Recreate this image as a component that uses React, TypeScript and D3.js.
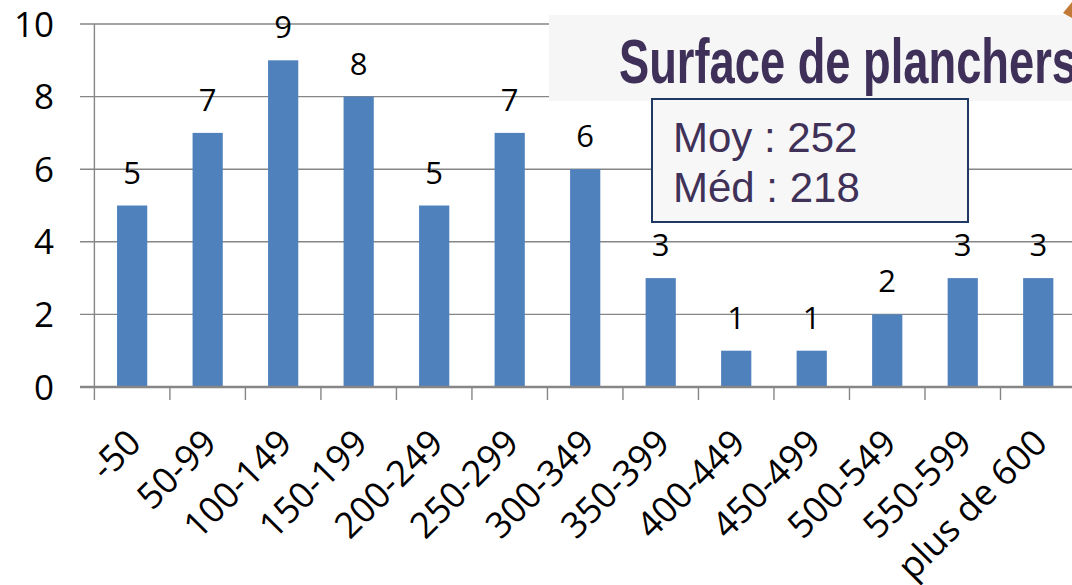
import React from "react";
import * as d3 from "d3";

const categories = ["-50", "50-99", "100-149", "150-199", "200-249", "250-299", "300-349", "350-399", "400-449", "450-499", "500-549", "550-599", "plus de 600"];
const counts = [5, 7, 9, 8, 5, 7, 6, 3, 1, 1, 2, 3, 3];
const yTicks = [0, 2, 4, 6, 8, 10];
const titleText = "Surface de planchers";
const statLines = ["Moy : 252", "Méd : 218"];

const W = 1072;
const H = 585;

export default function App() {
  const x = d3.scaleBand<string>().domain(categories).range([94.4, 1076]).paddingInner(0.6).paddingOuter(0.3);
  const xb = d3.scaleBand<string>().domain(categories).range([94.4, 1076]);
  const y = d3.scaleLinear().domain([0, 10]).range([387, 24]);
  const grid = "#868686";
  return (
    <svg width={W} height={H} style={{ position: "absolute", left: 0, top: 0, background: "#fff" }}>
      {yTicks.filter((t) => t > 0).map((t) => (
        <line key={"g" + t} x1={80} x2={W + 5} y1={y(t)} y2={y(t)} stroke={grid} strokeWidth={1.4} />
      ))}
      <line x1={94.4} x2={94.4} y1={y(10)} y2={400} stroke={grid} strokeWidth={1.4} />
      {categories.map((c) => (
        <line key={"t" + c} x1={(xb(c) as number) + xb.bandwidth()} x2={(xb(c) as number) + xb.bandwidth()} y1={y(0)} y2={400} stroke={grid} strokeWidth={1.4} />
      ))}
      {categories.map((c, i) => (
        <rect key={"b" + c} x={x(c)} y={y(counts[i])} width={x.bandwidth()} height={y(0) - y(counts[i])} fill="#4f81bd" />
      ))}
      <line x1={80} x2={W + 5} y1={y(0)} y2={y(0)} stroke={grid} strokeWidth={2.6} />
      {yTicks.map((t) => (
        <text key={"y" + t} x={54} y={y(t)} dy="0.36em" textAnchor="end" fontFamily="'Open Sans', sans-serif" fontSize={35} fill="#000">
          {t}
        </text>
      ))}
      {categories.map((c, i) => (
        <text key={"l" + c} x={(xb(c) as number) + xb.bandwidth() / 2} y={y(counts[i]) - 22} textAnchor="middle" fontFamily="'Open Sans', sans-serif" fontSize={31} fill="#000">
          {counts[i]}
        </text>
      ))}
      {categories.map((c) => {
        const cx = (xb(c) as number) + xb.bandwidth() / 2 + 11;
        const cy = 445;
        return (
          <text key={"x" + c} transform={`translate(${cx},${cy}) rotate(-45)`} textAnchor="end" fontFamily="'Open Sans', sans-serif" fontSize={36} fill="#000">
            {c}
          </text>
        );
      })}
      <rect x={549} y={15} width={540} height={86} fill="#f6f6f6" />
      <text x={619} y={83} fontFamily="'Liberation Sans', Arial, sans-serif" fontWeight="bold" fontSize={63} fill="#3f3059" textLength={458} lengthAdjust="spacingAndGlyphs">
        {titleText}
      </text>
      <polygon points="1072,2 1063,13 1072,18" fill="#c07a35" />
      <rect x={652} y={99} width={316} height={123} fill="#f7f7f7" stroke="#1f3864" strokeWidth={2} />
      {statLines.map((s, i) => (
        <text key={"s" + i} x={673} y={152 + i * 50} fontFamily="'Liberation Sans', Arial, sans-serif" fontSize={42} fill="#3f3157">
          {s}
        </text>
      ))}
    </svg>
  );
}
